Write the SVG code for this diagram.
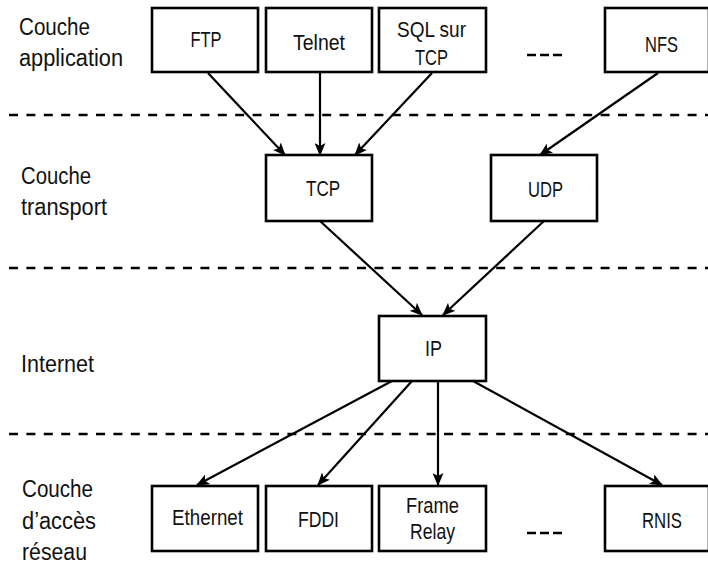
<svg xmlns="http://www.w3.org/2000/svg" width="708" height="564" viewBox="0 0 708 564">
  <defs>
    <marker id="arr" markerWidth="13" markerHeight="11" refX="12" refY="5.5" orient="auto" markerUnits="userSpaceOnUse" viewBox="0 0 13 11">
      <path d="M0,0 L13,5.5 L0,11 L3,5.5 Z" fill="#000"/>
    </marker>
    <style>
      .box { fill: #fff; stroke: #000; stroke-width: 2.6; }
      .lbl { font-family: "Liberation Sans", Arial, sans-serif; font-size: 23.5px; fill: #111; }
      .txt { font-family: "Liberation Sans", Arial, sans-serif; font-size: 21.5px; fill: #111; text-anchor: middle; }
      .dash { stroke: #000; stroke-width: 2.6; stroke-dasharray: 9 8.4; fill: none; }
      .conn { stroke: #000; stroke-width: 2.2; fill: none; marker-end: url(#arr); }
      .ell { stroke: #000; stroke-width: 2.6; stroke-dasharray: 9 4; fill: none; }
    </style>
  </defs>
  <rect width="708" height="564" fill="#fff"/>

  <g id="layers">
    <text class="lbl" x="19" y="35" textLength="71" lengthAdjust="spacingAndGlyphs">Couche</text>
    <text class="lbl" x="19" y="66" textLength="104" lengthAdjust="spacingAndGlyphs">application</text>
    <text class="lbl" x="21" y="184" textLength="70" lengthAdjust="spacingAndGlyphs">Couche</text>
    <text class="lbl" x="21" y="215" textLength="86" lengthAdjust="spacingAndGlyphs">transport</text>
    <text class="lbl" x="21" y="372" textLength="73" lengthAdjust="spacingAndGlyphs">Internet</text>
    <text class="lbl" x="22" y="497" textLength="71" lengthAdjust="spacingAndGlyphs">Couche</text>
    <text class="lbl" x="22" y="529" textLength="74" lengthAdjust="spacingAndGlyphs">d’accès</text>
    <text class="lbl" x="22" y="560" textLength="65" lengthAdjust="spacingAndGlyphs">réseau</text>
  </g>

  <g id="separators">
    <line class="dash" x1="9" y1="115" x2="708" y2="115"/>
    <line class="dash" x1="9" y1="268" x2="708" y2="268"/>
    <line class="dash" x1="9" y1="434" x2="708" y2="434"/>
  </g>

  <g id="connectors">
    <line class="conn" x1="208" y1="73" x2="285" y2="155"/>
    <line class="conn" x1="320" y1="73" x2="320" y2="155"/>
    <line class="conn" x1="432" y1="73" x2="355" y2="155"/>
    <line class="conn" x1="658" y1="73" x2="540" y2="155"/>
    <line class="conn" x1="320" y1="221" x2="422" y2="315"/>
    <line class="conn" x1="544" y1="221" x2="443" y2="315"/>
    <line class="conn" x1="392" y1="381" x2="197" y2="485"/>
    <line class="conn" x1="412" y1="381" x2="318" y2="485"/>
    <line class="conn" x1="438" y1="381" x2="438" y2="485"/>
    <line class="conn" x1="473" y1="381" x2="662" y2="485"/>
  </g>

  <g id="ftp"><rect class="box" x="152" y="8" width="106" height="64"/><text class="txt" x="206" y="47" textLength="31" lengthAdjust="spacingAndGlyphs">FTP</text></g>
  <g id="telnet"><rect class="box" x="266" y="8" width="106" height="64"/><text class="txt" x="319" y="50" textLength="52" lengthAdjust="spacingAndGlyphs">Telnet</text></g>
  <g id="sql"><rect class="box" x="379" y="8" width="107" height="64"/><text class="txt" x="431.5" y="37" textLength="69" lengthAdjust="spacingAndGlyphs">SQL sur</text><text class="txt" x="431.5" y="65" textLength="33" lengthAdjust="spacingAndGlyphs">TCP</text></g>
  <g id="nfs"><rect class="box" x="605" y="8" width="104" height="64"/><text class="txt" x="661.5" y="52" textLength="33" lengthAdjust="spacingAndGlyphs">NFS</text></g>
  <g id="app-more"><line class="ell" x1="527" y1="55" x2="562" y2="55"/></g>

  <g id="tcp"><rect class="box" x="266" y="155" width="106" height="66"/><text class="txt" x="323" y="196" textLength="34" lengthAdjust="spacingAndGlyphs">TCP</text></g>
  <g id="udp"><rect class="box" x="491" y="155" width="106" height="66"/><text class="txt" x="545.5" y="197" textLength="35" lengthAdjust="spacingAndGlyphs">UDP</text></g>

  <g id="ip"><rect class="box" x="379" y="316" width="107" height="65"/><text class="txt" x="433.5" y="356" textLength="17" lengthAdjust="spacingAndGlyphs">IP</text></g>

  <g id="ethernet"><rect class="box" x="152" y="486" width="106" height="65"/><text class="txt" x="207.5" y="525" textLength="71" lengthAdjust="spacingAndGlyphs">Ethernet</text></g>
  <g id="fddi"><rect class="box" x="266" y="486" width="106" height="65"/><text class="txt" x="318.5" y="527" textLength="41" lengthAdjust="spacingAndGlyphs">FDDI</text></g>
  <g id="framerelay"><rect class="box" x="379" y="486" width="107" height="65"/><text class="txt" x="432.5" y="513" textLength="53" lengthAdjust="spacingAndGlyphs">Frame</text><text class="txt" x="432.5" y="539" textLength="45" lengthAdjust="spacingAndGlyphs">Relay</text></g>
  <g id="rnis"><rect class="box" x="605" y="486" width="104" height="65"/><text class="txt" x="662" y="528" textLength="40" lengthAdjust="spacingAndGlyphs">RNIS</text></g>
  <g id="net-more"><line class="ell" x1="527" y1="533" x2="562" y2="533"/></g>
</svg>
